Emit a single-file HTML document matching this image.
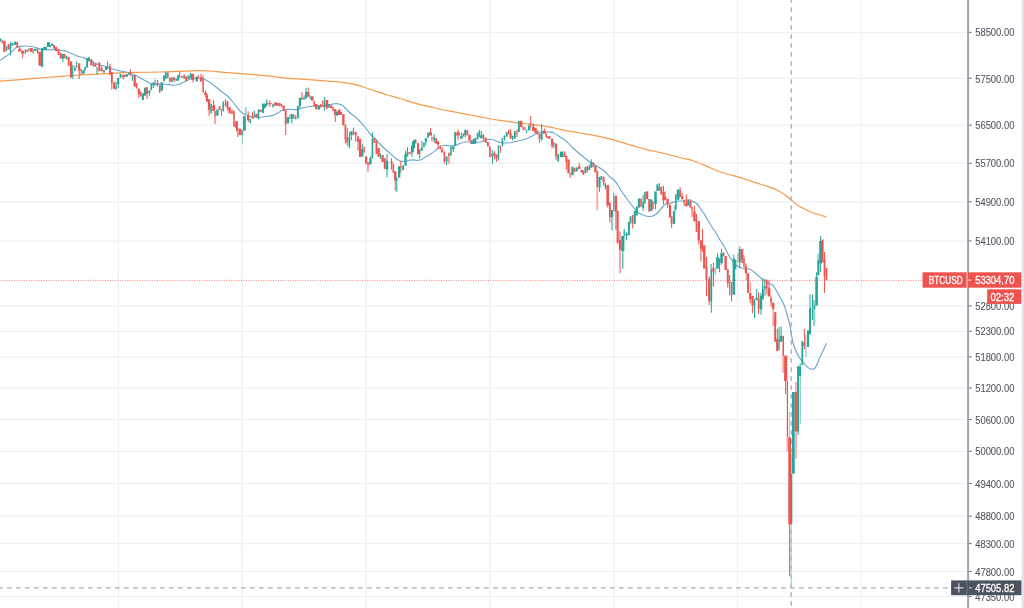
<!DOCTYPE html>
<html><head><meta charset="utf-8"><title>BTCUSD chart</title>
<style>html,body{margin:0;padding:0;background:#fff;overflow:hidden}svg{display:block}</style></head>
<body>
<svg width="1024" height="608" viewBox="0 0 1024 608">
<rect width="1024" height="608" fill="#fff"/>
<g stroke="#ebf1f6" stroke-width="1.25" fill="none">
<line x1="118.4" y1="0" x2="118.4" y2="608"/>
<line x1="242.2" y1="0" x2="242.2" y2="608"/>
<line x1="366.1" y1="0" x2="366.1" y2="608"/>
<line x1="489.9" y1="0" x2="489.9" y2="608"/>
<line x1="613.8" y1="0" x2="613.8" y2="608"/>
<line x1="737.6" y1="0" x2="737.6" y2="608"/>
<line x1="861.4" y1="0" x2="861.4" y2="608"/>
<line x1="0" y1="32.3" x2="967" y2="32.3"/>
<line x1="0" y1="78.3" x2="967" y2="78.3"/>
<line x1="0" y1="125.1" x2="967" y2="125.1"/>
<line x1="0" y1="163.2" x2="967" y2="163.2"/>
<line x1="0" y1="201.8" x2="967" y2="201.8"/>
<line x1="0" y1="241.0" x2="967" y2="241.0"/>
<line x1="0" y1="305.9" x2="967" y2="305.9"/>
<line x1="0" y1="331.3" x2="967" y2="331.3"/>
<line x1="0" y1="356.9" x2="967" y2="356.9"/>
<line x1="0" y1="388.0" x2="967" y2="388.0"/>
<line x1="0" y1="419.5" x2="967" y2="419.5"/>
<line x1="0" y1="451.3" x2="967" y2="451.3"/>
<line x1="0" y1="483.5" x2="967" y2="483.5"/>
<line x1="0" y1="516.1" x2="967" y2="516.1"/>
<line x1="0" y1="543.6" x2="967" y2="543.6"/>
<line x1="0" y1="571.4" x2="967" y2="571.4"/>
<line x1="0" y1="596.6" x2="967" y2="596.6"/>
</g>
<path d="M0.0 60.6C0.8 60.0 3.3 58.2 5.0 57.0C6.7 55.8 8.2 55.0 10.0 53.4C11.8 51.8 14.3 48.7 16.0 47.5C17.7 46.3 18.5 46.6 20.0 46.4C21.5 46.1 23.0 46.0 25.0 46.0C27.0 46.0 30.0 46.2 32.0 46.5C34.0 46.8 35.5 47.5 37.0 48.0C38.5 48.5 39.3 49.2 41.0 49.5C42.7 49.8 44.7 49.8 47.0 49.8C49.3 49.8 52.8 49.6 55.0 49.7C57.2 49.8 58.5 50.1 60.0 50.3C61.5 50.4 62.7 50.3 64.0 50.6C65.3 50.9 65.8 51.2 67.8 52.0C69.8 52.8 73.1 54.4 76.0 55.5C78.9 56.6 82.7 57.5 85.0 58.4C87.3 59.3 88.2 60.1 90.0 61.0C91.8 61.9 93.7 62.8 96.0 63.6C98.3 64.4 101.7 65.3 104.0 66.0C106.3 66.7 108.0 67.3 110.0 68.0C112.0 68.7 114.0 69.5 116.0 70.0C118.0 70.5 120.0 70.9 122.0 71.3C124.0 71.7 126.0 72.0 128.0 72.5C130.0 73.0 132.0 73.6 134.0 74.5C136.0 75.4 138.0 76.9 140.0 78.0C142.0 79.1 144.3 80.1 146.0 81.0C147.7 81.9 148.7 82.7 150.0 83.2C151.3 83.7 152.3 84.0 154.0 84.2C155.7 84.4 158.2 84.3 160.0 84.3C161.8 84.3 163.3 84.1 165.0 84.2C166.7 84.3 168.5 84.6 170.0 84.8C171.5 85.0 172.7 85.2 174.0 85.2C175.3 85.2 176.7 84.9 178.0 84.5C179.3 84.1 180.7 83.5 182.0 82.9C183.3 82.3 184.7 81.6 186.0 81.0C187.3 80.4 189.0 79.7 190.0 79.3C191.0 78.9 191.0 78.8 192.0 78.6C193.0 78.3 194.7 77.9 196.0 77.8C197.3 77.7 198.7 77.8 200.0 78.0C201.3 78.2 202.3 78.2 204.0 79.0C205.7 79.8 208.0 81.2 210.0 82.5C212.0 83.8 214.0 85.4 216.0 87.0C218.0 88.6 220.0 90.4 222.0 92.0C224.0 93.6 226.3 95.0 228.0 96.5C229.7 98.0 230.7 99.4 232.0 101.0C233.3 102.6 234.7 104.3 236.0 106.0C237.3 107.7 238.7 109.7 240.0 111.0C241.3 112.3 242.7 113.2 244.0 114.0C245.3 114.8 246.3 115.5 248.0 116.0C249.7 116.5 252.0 116.8 254.0 117.0C256.0 117.2 258.0 117.3 260.0 117.2C262.0 117.1 264.0 116.8 266.0 116.5C268.0 116.2 270.3 116.0 272.0 115.6C273.7 115.2 274.5 114.8 276.0 114.0C277.5 113.2 279.5 111.7 281.0 111.0C282.5 110.3 283.2 109.8 285.0 109.6C286.8 109.3 290.0 109.5 292.0 109.5C294.0 109.5 295.3 109.8 297.0 109.5C298.7 109.2 300.2 108.5 302.0 108.0C303.8 107.5 306.0 107.0 308.0 106.7C310.0 106.4 312.0 106.1 314.0 106.0C316.0 105.9 318.2 106.3 320.0 106.2C321.8 106.1 323.3 105.8 325.0 105.5C326.7 105.2 328.2 104.8 330.0 104.5C331.8 104.2 334.3 103.6 336.0 103.6C337.7 103.6 338.7 103.8 340.0 104.3C341.3 104.8 342.7 105.6 344.0 106.7C345.3 107.8 346.7 109.7 348.0 111.0C349.3 112.3 350.7 113.4 352.0 114.5C353.3 115.6 354.7 116.3 356.0 117.5C357.3 118.7 358.7 120.1 360.0 121.5C361.3 122.9 362.7 124.4 364.0 126.0C365.3 127.6 366.7 129.3 368.0 131.0C369.3 132.7 370.7 134.6 372.0 136.0C373.3 137.4 374.7 138.2 376.0 139.5C377.3 140.8 378.7 142.6 380.0 144.0C381.3 145.4 382.7 146.8 384.0 148.0C385.3 149.2 386.7 150.3 388.0 151.5C389.3 152.7 390.7 153.8 392.0 155.0C393.3 156.2 394.7 157.5 396.0 158.5C397.3 159.5 398.7 160.3 400.0 160.8C401.3 161.3 402.7 161.6 404.0 161.5C405.3 161.4 406.7 160.8 408.0 160.5C409.3 160.2 410.7 160.0 412.0 159.9C413.3 159.8 415.0 160.1 416.0 160.2C417.0 160.3 417.0 160.5 418.0 160.3C419.0 160.2 421.0 159.7 422.0 159.3C423.0 158.9 422.7 158.8 424.0 158.0C425.3 157.2 428.0 155.8 430.0 154.5C432.0 153.2 434.3 151.3 436.0 150.0C437.7 148.7 438.7 147.2 440.0 146.5C441.3 145.8 442.3 145.6 444.0 145.5C445.7 145.4 448.2 145.7 450.0 145.7C451.8 145.7 453.3 145.9 455.0 145.5C456.7 145.1 458.3 144.1 460.0 143.5C461.7 142.9 463.7 142.3 465.0 142.0C466.3 141.7 466.8 141.7 468.0 141.8C469.2 141.9 470.7 142.3 472.0 142.5C473.3 142.7 474.3 143.2 476.0 143.0C477.7 142.8 480.0 142.1 482.0 141.5C484.0 140.9 486.3 139.8 488.0 139.5C489.7 139.2 490.7 139.2 492.0 139.5C493.3 139.8 494.7 140.5 496.0 141.0C497.3 141.5 498.3 142.2 500.0 142.5C501.7 142.8 504.0 143.0 506.0 143.0C508.0 143.0 510.0 142.8 512.0 142.5C514.0 142.2 516.0 141.5 518.0 141.0C520.0 140.5 522.3 140.0 524.0 139.5C525.7 139.0 526.7 138.6 528.0 138.0C529.3 137.4 530.5 136.8 532.0 136.0C533.5 135.2 535.3 134.2 537.0 133.5C538.7 132.8 540.2 132.2 542.0 132.0C543.8 131.8 546.0 131.8 548.0 132.0C550.0 132.2 552.0 132.2 554.0 133.0C556.0 133.8 558.0 135.7 560.0 137.0C562.0 138.3 564.0 139.3 566.0 141.0C568.0 142.7 570.0 145.1 572.0 147.0C574.0 148.9 576.0 150.8 578.0 152.5C580.0 154.2 582.0 155.9 584.0 157.5C586.0 159.1 588.2 160.8 590.0 162.0C591.8 163.2 593.3 164.0 595.0 165.0C596.7 166.0 598.3 166.9 600.0 168.0C601.7 169.1 603.3 170.0 605.0 171.5C606.7 173.0 608.5 175.6 610.0 177.0C611.5 178.4 612.7 178.6 614.0 180.0C615.3 181.4 616.7 183.5 618.0 185.5C619.3 187.5 620.7 190.0 622.0 192.0C623.3 194.0 624.7 195.7 626.0 197.5C627.3 199.3 628.7 201.2 630.0 203.0C631.3 204.8 632.7 206.4 634.0 208.0C635.3 209.6 636.7 211.4 638.0 212.5C639.3 213.6 640.7 213.9 642.0 214.5C643.3 215.1 644.7 215.7 646.0 216.0C647.3 216.3 648.7 216.6 650.0 216.5C651.3 216.4 652.7 216.2 654.0 215.5C655.3 214.8 656.7 213.8 658.0 212.5C659.3 211.2 660.7 208.9 662.0 207.5C663.3 206.1 664.7 204.7 666.0 204.0C667.3 203.3 668.3 203.7 670.0 203.3C671.7 202.9 674.3 201.9 676.0 201.5C677.7 201.1 678.7 201.1 680.0 201.0C681.3 200.9 682.7 201.0 684.0 201.0C685.3 201.0 686.7 201.1 688.0 201.2C689.3 201.2 690.7 201.0 692.0 201.3C693.3 201.6 694.7 201.9 696.0 203.0C697.3 204.1 698.7 206.2 700.0 208.0C701.3 209.8 702.7 211.4 704.0 213.5C705.3 215.6 706.7 218.2 708.0 220.5C709.3 222.8 710.7 224.9 712.0 227.0C713.3 229.1 714.7 230.8 716.0 233.0C717.3 235.2 718.7 237.8 720.0 240.0C721.3 242.2 722.7 243.7 724.0 246.0C725.3 248.3 726.7 251.6 728.0 254.0C729.3 256.4 730.7 258.7 732.0 260.5C733.3 262.3 734.7 263.8 736.0 265.0C737.3 266.2 738.5 266.9 740.0 267.5C741.5 268.1 743.3 268.2 745.0 268.5C746.7 268.8 748.5 268.7 750.0 269.3C751.5 269.9 752.7 271.0 754.0 272.0C755.3 273.0 756.7 274.3 758.0 275.5C759.3 276.7 760.7 277.9 762.0 279.0C763.3 280.1 764.7 281.2 766.0 282.0C767.3 282.8 768.8 283.4 770.0 284.0C771.2 284.6 772.0 284.5 773.0 285.5C774.0 286.5 774.8 288.1 776.0 290.0C777.2 291.9 778.7 294.5 780.0 297.0C781.3 299.5 783.0 302.7 784.0 305.0C785.0 307.3 785.3 308.8 786.0 311.0C786.7 313.2 787.3 315.5 788.0 318.0C788.7 320.5 789.2 321.8 790.0 326.0C790.8 330.2 792.0 338.8 793.0 343.0C794.0 347.2 795.0 348.7 796.0 351.0C797.0 353.3 798.0 355.3 799.0 357.0C800.0 358.7 801.0 359.8 802.0 361.0C803.0 362.2 804.0 363.4 805.0 364.5C806.0 365.6 807.0 366.8 808.0 367.5C809.0 368.2 810.0 368.8 811.0 369.0C812.0 369.2 813.2 369.3 814.0 369.0C814.8 368.7 815.0 368.0 815.6 367.0C816.2 366.0 816.8 364.9 817.5 363.2C818.2 361.5 819.0 359.1 820.0 357.0C821.0 354.9 822.1 352.8 823.2 350.5C824.3 348.2 826.0 344.4 826.5 343.2" fill="none" stroke="#5d9dc9" stroke-width="1.15" stroke-linejoin="round" opacity="0.9"/>
<path d="M0.0 81.2C5.3 80.8 21.3 79.6 32.0 78.7C42.7 77.8 56.0 76.7 64.0 76.1C72.0 75.5 74.7 75.3 80.0 75.0C85.3 74.7 91.0 74.5 96.0 74.2C101.0 74.0 106.0 73.7 110.0 73.5C114.0 73.3 117.0 73.0 120.0 72.8C123.0 72.6 121.3 72.6 128.0 72.5C134.7 72.4 149.3 72.3 160.0 72.0C170.7 71.7 185.3 71.0 192.0 70.8C198.7 70.5 197.0 70.7 200.0 70.7C203.0 70.7 206.0 70.7 210.0 71.0C214.0 71.3 219.0 71.9 224.0 72.3C229.0 72.7 235.7 73.3 240.0 73.6C244.3 73.9 245.1 73.9 250.0 74.3C254.9 74.7 263.0 75.5 269.5 76.2C276.0 76.9 282.5 77.8 289.0 78.4C295.5 79.0 302.1 79.2 308.6 79.7C315.1 80.2 323.1 80.7 328.0 81.1C332.9 81.5 334.7 81.6 338.0 81.9C341.3 82.2 344.5 82.7 347.7 83.2C350.9 83.8 354.1 84.4 357.4 85.2C360.6 86.0 362.3 86.7 367.2 88.3C372.1 89.9 381.2 93.1 386.7 94.8C392.2 96.5 395.1 97.1 400.0 98.5C404.9 99.9 410.5 102.0 415.8 103.4C421.1 104.9 426.3 106.0 431.6 107.2C436.9 108.4 442.1 109.6 447.4 110.7C452.7 111.8 459.4 113.0 463.2 113.7C467.0 114.4 466.2 114.3 470.0 115.0C473.8 115.7 480.5 117.0 485.8 118.0C491.1 119.0 496.3 119.9 501.6 120.7C506.9 121.5 512.1 122.2 517.4 122.9C522.7 123.6 527.8 123.9 533.2 124.6C538.6 125.3 545.5 126.5 550.0 127.2C554.5 128.0 555.0 128.3 560.0 129.3C565.0 130.3 573.3 131.8 580.0 133.0C586.7 134.2 594.7 135.5 600.0 136.6C605.3 137.7 607.8 138.3 611.7 139.4C615.6 140.5 619.5 141.7 623.4 142.9C627.3 144.1 631.3 145.3 635.2 146.4C639.1 147.5 643.0 148.7 646.9 149.7C650.8 150.7 654.7 151.4 658.6 152.3C662.5 153.2 666.4 154.1 670.3 155.0C674.2 155.9 678.1 157.0 682.0 158.0C685.9 159.0 689.8 159.7 693.7 161.0C697.6 162.3 701.6 164.0 705.5 165.6C709.4 167.2 713.3 169.3 717.2 170.8C721.1 172.3 725.0 173.4 728.9 174.5C732.8 175.6 736.7 176.4 740.6 177.6C744.5 178.8 748.4 180.3 752.3 181.6C756.2 182.9 760.1 184.0 764.0 185.3C767.9 186.6 772.3 187.9 775.8 189.5C779.3 191.1 782.6 193.3 785.1 195.0C787.6 196.7 788.6 197.9 791.0 199.8C793.4 201.7 795.9 204.2 799.2 206.2C802.5 208.2 807.4 210.5 810.9 212.0C814.4 213.5 817.8 214.1 820.3 215.0C822.8 215.9 825.2 216.8 826.2 217.2" fill="none" stroke="#f7953f" stroke-width="1.2" stroke-linejoin="round" opacity="0.95"/>
<line x1="791.2" y1="-1.7" x2="791.2" y2="608" stroke="#a3acba" stroke-width="1.35" stroke-dasharray="4.4 4.6"/>
<line x1="-1.9" y1="587.8" x2="951" y2="587.8" stroke="#a3acba" stroke-width="1.35" stroke-dasharray="4.6 4.4"/>
<defs><filter id="bl" x="-2%" y="-2%" width="104%" height="104%"><feGaussianBlur stdDeviation="0.35"/></filter></defs>
<g filter="url(#bl)"><g stroke-width="1.05"><line x1="8.59" y1="44.06" x2="8.59" y2="44.38" stroke="#ef5350"/><line x1="10.56" y1="41.56" x2="10.56" y2="42.50" stroke="#26a69a"/><line x1="10.56" y1="52.50" x2="10.56" y2="55.62" stroke="#26a69a"/><line x1="19.69" y1="46.56" x2="19.69" y2="48.75" stroke="#ef5350"/><line x1="22.66" y1="53.75" x2="22.66" y2="57.81" stroke="#ef5350"/><line x1="33.28" y1="51.88" x2="33.28" y2="53.75" stroke="#26a69a"/><line x1="62.78" y1="58.75" x2="62.78" y2="61.88" stroke="#26a69a"/><line x1="72.75" y1="65.12" x2="72.75" y2="70.12" stroke="#26a69a"/><line x1="72.75" y1="77.00" x2="72.75" y2="78.88" stroke="#26a69a"/><line x1="74.94" y1="65.44" x2="74.94" y2="67.94" stroke="#26a69a"/><line x1="76.66" y1="61.38" x2="76.66" y2="64.50" stroke="#26a69a"/><line x1="79.16" y1="70.75" x2="79.16" y2="78.88" stroke="#ef5350"/><line x1="81.03" y1="70.75" x2="81.03" y2="75.12" stroke="#ef5350"/><line x1="93.38" y1="61.38" x2="93.38" y2="63.25" stroke="#26a69a"/><line x1="97.06" y1="70.12" x2="97.06" y2="74.81" stroke="#26a69a"/><line x1="101.66" y1="65.44" x2="101.66" y2="68.25" stroke="#ef5350"/><line x1="107.59" y1="61.38" x2="107.59" y2="66.38" stroke="#26a69a"/><line x1="109.94" y1="63.88" x2="109.94" y2="66.06" stroke="#ef5350"/><line x1="109.94" y1="73.88" x2="109.94" y2="75.44" stroke="#ef5350"/><line x1="111.81" y1="83.25" x2="111.81" y2="89.50" stroke="#ef5350"/><line x1="116.03" y1="81.38" x2="116.03" y2="85.12" stroke="#26a69a"/><line x1="116.03" y1="89.50" x2="116.03" y2="90.12" stroke="#26a69a"/><line x1="118.22" y1="84.50" x2="118.22" y2="88.25" stroke="#26a69a"/><line x1="123.22" y1="77.00" x2="123.22" y2="79.50" stroke="#ef5350"/><line x1="130.50" y1="69.19" x2="130.50" y2="72.62" stroke="#ef5350"/><line x1="132.53" y1="77.62" x2="132.53" y2="80.75" stroke="#26a69a"/><line x1="138.78" y1="94.50" x2="138.78" y2="97.94" stroke="#ef5350"/><line x1="147.06" y1="94.19" x2="147.06" y2="98.88" stroke="#ef5350"/><line x1="149.41" y1="93.25" x2="149.41" y2="95.75" stroke="#26a69a"/><line x1="153.31" y1="85.75" x2="153.31" y2="87.94" stroke="#26a69a"/><line x1="155.03" y1="79.50" x2="155.03" y2="83.25" stroke="#26a69a"/><line x1="157.53" y1="80.12" x2="157.53" y2="82.62" stroke="#ef5350"/><line x1="157.53" y1="84.19" x2="157.53" y2="86.69" stroke="#ef5350"/><line x1="169.88" y1="81.06" x2="169.88" y2="82.62" stroke="#ef5350"/><line x1="173.94" y1="80.12" x2="173.94" y2="81.69" stroke="#ef5350"/><line x1="179.66" y1="71.38" x2="179.66" y2="75.12" stroke="#ef5350"/><line x1="179.66" y1="77.62" x2="179.66" y2="78.25" stroke="#ef5350"/><line x1="193.09" y1="80.38" x2="193.09" y2="82.56" stroke="#ef5350"/><line x1="198.41" y1="75.06" x2="198.41" y2="76.62" stroke="#ef5350"/><line x1="198.41" y1="78.50" x2="198.41" y2="79.12" stroke="#ef5350"/><line x1="201.06" y1="74.12" x2="201.06" y2="77.25" stroke="#ef5350"/><line x1="203.09" y1="75.38" x2="203.09" y2="78.50" stroke="#ef5350"/><line x1="205.59" y1="90.38" x2="205.59" y2="92.88" stroke="#ef5350"/><line x1="205.59" y1="95.38" x2="205.59" y2="97.25" stroke="#ef5350"/><line x1="209.08" y1="110.22" x2="209.08" y2="115.75" stroke="#ef5350"/><line x1="213.63" y1="99.95" x2="213.63" y2="105.08" stroke="#ef5350"/><line x1="215.01" y1="116.54" x2="215.01" y2="123.65" stroke="#ef5350"/><line x1="221.52" y1="110.61" x2="221.52" y2="115.75" stroke="#ef5350"/><line x1="225.47" y1="99.16" x2="225.47" y2="103.90" stroke="#26a69a"/><line x1="227.45" y1="108.64" x2="227.45" y2="110.61" stroke="#ef5350"/><line x1="231.99" y1="109.43" x2="231.99" y2="111.01" stroke="#ef5350"/><line x1="236.53" y1="127.99" x2="236.53" y2="131.55" stroke="#ef5350"/><line x1="237.84" y1="129.97" x2="237.84" y2="137.07" stroke="#ef5350"/><line x1="248.18" y1="111.40" x2="248.18" y2="115.35" stroke="#ef5350"/><line x1="248.18" y1="120.09" x2="248.18" y2="121.67" stroke="#ef5350"/><line x1="252.53" y1="112.19" x2="252.53" y2="116.93" stroke="#ef5350"/><line x1="254.30" y1="110.61" x2="254.30" y2="114.96" stroke="#26a69a"/><line x1="266.75" y1="99.16" x2="266.75" y2="100.74" stroke="#26a69a"/><line x1="269.91" y1="100.34" x2="269.91" y2="103.11" stroke="#ef5350"/><line x1="269.91" y1="104.29" x2="269.91" y2="107.06" stroke="#ef5350"/><line x1="285.69" y1="124.69" x2="285.69" y2="135.00" stroke="#ef5350"/><line x1="289.91" y1="114.62" x2="289.91" y2="116.50" stroke="#26a69a"/><line x1="291.78" y1="119.00" x2="291.78" y2="123.38" stroke="#26a69a"/><line x1="295.69" y1="115.25" x2="295.69" y2="118.06" stroke="#26a69a"/><line x1="299.91" y1="106.19" x2="299.91" y2="108.06" stroke="#26a69a"/><line x1="301.94" y1="92.12" x2="301.94" y2="98.06" stroke="#ef5350"/><line x1="304.12" y1="95.25" x2="304.12" y2="98.06" stroke="#26a69a"/><line x1="306.00" y1="88.06" x2="306.00" y2="91.81" stroke="#26a69a"/><line x1="308.19" y1="87.44" x2="308.19" y2="91.81" stroke="#ef5350"/><line x1="310.00" y1="95.25" x2="310.00" y2="96.50" stroke="#26a69a"/><line x1="310.00" y1="98.69" x2="310.00" y2="99.62" stroke="#26a69a"/><line x1="322.72" y1="99.94" x2="322.72" y2="105.25" stroke="#ef5350"/><line x1="324.59" y1="97.12" x2="324.59" y2="100.25" stroke="#26a69a"/><line x1="324.59" y1="107.75" x2="324.59" y2="110.56" stroke="#26a69a"/><line x1="326.94" y1="107.75" x2="326.94" y2="109.62" stroke="#ef5350"/><line x1="335.22" y1="115.25" x2="335.22" y2="121.88" stroke="#ef5350"/><line x1="340.07" y1="109.48" x2="340.07" y2="111.85" stroke="#ef5350"/><line x1="345.40" y1="139.49" x2="345.40" y2="143.44" stroke="#ef5350"/><line x1="347.26" y1="127.65" x2="347.26" y2="137.12" stroke="#ef5350"/><line x1="347.26" y1="142.65" x2="347.26" y2="145.81" stroke="#ef5350"/><line x1="349.35" y1="131.99" x2="349.35" y2="137.12" stroke="#26a69a"/><line x1="349.35" y1="146.60" x2="349.35" y2="148.58" stroke="#26a69a"/><line x1="351.40" y1="135.55" x2="351.40" y2="140.28" stroke="#26a69a"/><line x1="353.46" y1="127.65" x2="353.46" y2="131.20" stroke="#ef5350"/><line x1="355.63" y1="135.55" x2="355.63" y2="141.86" stroke="#ef5350"/><line x1="357.92" y1="141.86" x2="357.92" y2="150.55" stroke="#ef5350"/><line x1="362.30" y1="144.00" x2="362.30" y2="149.13" stroke="#26a69a"/><line x1="367.99" y1="165.72" x2="367.99" y2="171.65" stroke="#ef5350"/><line x1="370.36" y1="156.24" x2="370.36" y2="158.22" stroke="#26a69a"/><line x1="372.41" y1="132.15" x2="372.41" y2="138.47" stroke="#26a69a"/><line x1="380.43" y1="153.48" x2="380.43" y2="155.06" stroke="#26a69a"/><line x1="380.43" y1="157.43" x2="380.43" y2="159.01" stroke="#26a69a"/><line x1="387.03" y1="153.87" x2="387.03" y2="160.59" stroke="#26a69a"/><line x1="387.03" y1="169.67" x2="387.03" y2="177.18" stroke="#26a69a"/><line x1="391.49" y1="158.22" x2="391.49" y2="161.77" stroke="#ef5350"/><line x1="391.49" y1="163.35" x2="391.49" y2="169.67" stroke="#ef5350"/><line x1="395.24" y1="180.73" x2="395.24" y2="190.60" stroke="#ef5350"/><line x1="396.74" y1="180.73" x2="396.74" y2="192.03" stroke="#26a69a"/><line x1="400.85" y1="160.98" x2="400.85" y2="166.12" stroke="#ef5350"/><line x1="400.85" y1="168.09" x2="400.85" y2="172.44" stroke="#ef5350"/><line x1="405.51" y1="150.71" x2="405.51" y2="153.87" stroke="#26a69a"/><line x1="407.48" y1="147.16" x2="407.48" y2="151.90" stroke="#26a69a"/><line x1="411.95" y1="152.69" x2="411.95" y2="156.64" stroke="#26a69a"/><line x1="413.41" y1="147.81" x2="413.41" y2="152.50" stroke="#26a69a"/><line x1="419.72" y1="154.38" x2="419.72" y2="158.75" stroke="#26a69a"/><line x1="421.84" y1="140.94" x2="421.84" y2="147.19" stroke="#26a69a"/><line x1="425.91" y1="141.88" x2="425.91" y2="145.00" stroke="#26a69a"/><line x1="430.50" y1="128.12" x2="430.50" y2="132.19" stroke="#ef5350"/><line x1="431.94" y1="138.75" x2="431.94" y2="141.56" stroke="#ef5350"/><line x1="434.19" y1="134.06" x2="434.19" y2="137.19" stroke="#26a69a"/><line x1="434.19" y1="140.00" x2="434.19" y2="142.81" stroke="#26a69a"/><line x1="438.09" y1="144.69" x2="438.09" y2="149.38" stroke="#ef5350"/><line x1="442.16" y1="147.19" x2="442.16" y2="149.38" stroke="#ef5350"/><line x1="444.34" y1="161.00" x2="444.34" y2="163.44" stroke="#ef5350"/><line x1="446.53" y1="155.94" x2="446.53" y2="156.88" stroke="#26a69a"/><line x1="446.53" y1="161.62" x2="446.53" y2="165.00" stroke="#26a69a"/><line x1="448.97" y1="152.19" x2="448.97" y2="153.38" stroke="#ef5350"/><line x1="448.97" y1="156.25" x2="448.97" y2="163.44" stroke="#ef5350"/><line x1="453.25" y1="149.06" x2="453.25" y2="151.88" stroke="#26a69a"/><line x1="458.03" y1="129.38" x2="458.03" y2="132.19" stroke="#ef5350"/><line x1="458.03" y1="135.62" x2="458.03" y2="139.69" stroke="#ef5350"/><line x1="461.38" y1="132.50" x2="461.38" y2="135.94" stroke="#26a69a"/><line x1="465.28" y1="135.31" x2="465.28" y2="137.50" stroke="#26a69a"/><line x1="473.41" y1="139.06" x2="473.41" y2="140.94" stroke="#26a69a"/><line x1="481.38" y1="131.06" x2="481.38" y2="135.12" stroke="#26a69a"/><line x1="492.47" y1="150.62" x2="492.47" y2="153.12" stroke="#26a69a"/><line x1="492.47" y1="156.88" x2="492.47" y2="163.75" stroke="#26a69a"/><line x1="494.50" y1="151.25" x2="494.50" y2="153.12" stroke="#ef5350"/><line x1="494.50" y1="156.25" x2="494.50" y2="159.38" stroke="#ef5350"/><line x1="496.53" y1="158.75" x2="496.53" y2="161.88" stroke="#ef5350"/><line x1="498.47" y1="158.44" x2="498.47" y2="160.62" stroke="#26a69a"/><line x1="500.44" y1="146.88" x2="500.44" y2="152.81" stroke="#ef5350"/><line x1="504.50" y1="137.94" x2="504.50" y2="140.75" stroke="#26a69a"/><line x1="510.59" y1="129.19" x2="510.59" y2="133.25" stroke="#ef5350"/><line x1="512.78" y1="138.88" x2="512.78" y2="140.44" stroke="#26a69a"/><line x1="517.00" y1="129.19" x2="517.00" y2="132.31" stroke="#ef5350"/><line x1="517.00" y1="133.56" x2="517.00" y2="137.00" stroke="#ef5350"/><line x1="523.09" y1="128.88" x2="523.09" y2="130.75" stroke="#ef5350"/><line x1="525.12" y1="127.00" x2="525.12" y2="128.56" stroke="#ef5350"/><line x1="526.69" y1="129.50" x2="526.69" y2="130.12" stroke="#26a69a"/><line x1="526.69" y1="132.00" x2="526.69" y2="133.25" stroke="#26a69a"/><line x1="529.19" y1="123.56" x2="529.19" y2="125.75" stroke="#26a69a"/><line x1="530.75" y1="116.06" x2="530.75" y2="126.06" stroke="#ef5350"/><line x1="533.25" y1="123.56" x2="533.25" y2="127.00" stroke="#ef5350"/><line x1="533.38" y1="123.90" x2="533.38" y2="127.45" stroke="#ef5350"/><line x1="539.50" y1="138.91" x2="539.50" y2="142.86" stroke="#ef5350"/><line x1="541.68" y1="124.29" x2="541.68" y2="131.40" stroke="#26a69a"/><line x1="541.68" y1="139.70" x2="541.68" y2="140.49" stroke="#26a69a"/><line x1="544.48" y1="128.64" x2="544.48" y2="130.61" stroke="#ef5350"/><line x1="552.06" y1="145.62" x2="552.06" y2="148.39" stroke="#ef5350"/><line x1="556.10" y1="156.71" x2="556.10" y2="159.87" stroke="#ef5350"/><line x1="564.39" y1="151.18" x2="564.39" y2="152.37" stroke="#ef5350"/><line x1="566.36" y1="161.85" x2="566.36" y2="169.75" stroke="#ef5350"/><line x1="570.20" y1="174.09" x2="570.20" y2="178.04" stroke="#ef5350"/><line x1="579.20" y1="163.03" x2="579.20" y2="166.19" stroke="#ef5350"/><line x1="583.35" y1="174.09" x2="583.35" y2="174.88" stroke="#ef5350"/><line x1="587.30" y1="170.14" x2="587.30" y2="172.51" stroke="#ef5350"/><line x1="589.35" y1="164.61" x2="589.35" y2="166.98" stroke="#26a69a"/><line x1="591.33" y1="159.48" x2="591.33" y2="162.24" stroke="#26a69a"/><line x1="599.50" y1="187.85" x2="599.50" y2="191.80" stroke="#26a69a"/><line x1="603.65" y1="182.71" x2="603.65" y2="185.48" stroke="#ef5350"/><line x1="605.35" y1="182.71" x2="605.35" y2="183.90" stroke="#26a69a"/><line x1="605.35" y1="187.85" x2="605.35" y2="189.43" stroke="#26a69a"/><line x1="607.68" y1="205.62" x2="607.68" y2="207.60" stroke="#ef5350"/><line x1="609.89" y1="217.07" x2="609.89" y2="222.60" stroke="#ef5350"/><line x1="611.98" y1="217.47" x2="611.98" y2="230.50" stroke="#26a69a"/><line x1="613.84" y1="192.98" x2="613.84" y2="195.75" stroke="#26a69a"/><line x1="615.93" y1="211.55" x2="615.93" y2="229.71" stroke="#ef5350"/><line x1="619.96" y1="231.29" x2="619.96" y2="239.98" stroke="#ef5350"/><line x1="622.81" y1="251.04" x2="622.81" y2="268.81" stroke="#26a69a"/><line x1="624.19" y1="228.92" x2="624.19" y2="231.29" stroke="#26a69a"/><line x1="626.56" y1="231.69" x2="626.56" y2="234.06" stroke="#26a69a"/><line x1="626.56" y1="235.08" x2="626.56" y2="239.98" stroke="#26a69a"/><line x1="632.68" y1="224.18" x2="632.68" y2="228.13" stroke="#ef5350"/><line x1="643.15" y1="194.96" x2="643.15" y2="202.07" stroke="#26a69a"/><line x1="643.15" y1="208.39" x2="643.15" y2="210.76" stroke="#26a69a"/><line x1="655.51" y1="204.04" x2="655.51" y2="209.18" stroke="#26a69a"/><line x1="659.26" y1="183.11" x2="659.26" y2="187.06" stroke="#26a69a"/><line x1="663.48" y1="185.87" x2="663.48" y2="191.80" stroke="#ef5350"/><line x1="663.48" y1="200.49" x2="663.48" y2="204.44" stroke="#ef5350"/><line x1="665.18" y1="191.45" x2="665.18" y2="196.59" stroke="#ef5350"/><line x1="667.55" y1="204.49" x2="667.55" y2="207.65" stroke="#ef5350"/><line x1="671.62" y1="223.84" x2="671.62" y2="228.18" stroke="#ef5350"/><line x1="680.07" y1="187.11" x2="680.07" y2="190.27" stroke="#ef5350"/><line x1="682.17" y1="193.03" x2="682.17" y2="196.19" stroke="#ef5350"/><line x1="684.14" y1="202.91" x2="684.14" y2="206.07" stroke="#ef5350"/><line x1="686.35" y1="194.61" x2="686.35" y2="202.91" stroke="#ef5350"/><line x1="690.38" y1="198.96" x2="690.38" y2="200.93" stroke="#ef5350"/><line x1="692.04" y1="209.62" x2="692.04" y2="217.12" stroke="#ef5350"/><line x1="694.41" y1="206.07" x2="694.41" y2="211.20" stroke="#ef5350"/><line x1="698.76" y1="240.56" x2="698.76" y2="244.51" stroke="#ef5350"/><line x1="700.93" y1="248.86" x2="700.93" y2="261.49" stroke="#ef5350"/><line x1="702.51" y1="229.11" x2="702.51" y2="244.91" stroke="#ef5350"/><line x1="706.46" y1="256.76" x2="706.46" y2="266.23" stroke="#ef5350"/><line x1="706.46" y1="280.45" x2="706.46" y2="296.01" stroke="#ef5350"/><line x1="709.26" y1="276.50" x2="709.26" y2="279.03" stroke="#ef5350"/><line x1="709.26" y1="301.15" x2="709.26" y2="305.10" stroke="#ef5350"/><line x1="711.31" y1="264.02" x2="711.31" y2="268.37" stroke="#26a69a"/><line x1="711.31" y1="301.94" x2="711.31" y2="312.84" stroke="#26a69a"/><line x1="713.45" y1="263.07" x2="713.45" y2="267.58" stroke="#ef5350"/><line x1="713.45" y1="271.92" x2="713.45" y2="286.53" stroke="#ef5350"/><line x1="717.52" y1="253.20" x2="717.52" y2="257.15" stroke="#26a69a"/><line x1="719.57" y1="263.07" x2="719.57" y2="272.32" stroke="#ef5350"/><line x1="721.54" y1="248.86" x2="721.54" y2="253.20" stroke="#26a69a"/><line x1="721.54" y1="263.07" x2="721.54" y2="264.65" stroke="#26a69a"/><line x1="727.78" y1="283.37" x2="727.78" y2="287.72" stroke="#ef5350"/><line x1="729.64" y1="275.08" x2="729.64" y2="281.79" stroke="#26a69a"/><line x1="729.64" y1="282.98" x2="729.64" y2="295.62" stroke="#26a69a"/><line x1="731.54" y1="295.62" x2="731.54" y2="301.15" stroke="#ef5350"/><line x1="733.83" y1="254.39" x2="733.83" y2="258.73" stroke="#26a69a"/><line x1="739.71" y1="246.49" x2="739.71" y2="248.86" stroke="#26a69a"/><line x1="739.71" y1="262.28" x2="739.71" y2="268.60" stroke="#26a69a"/><line x1="741.88" y1="259.12" x2="741.88" y2="263.07" stroke="#ef5350"/><line x1="742.08" y1="258.96" x2="742.08" y2="262.91" stroke="#ef5350"/><line x1="745.95" y1="263.30" x2="745.95" y2="266.07" stroke="#ef5350"/><line x1="750.22" y1="298.98" x2="750.22" y2="303.33" stroke="#ef5350"/><line x1="752.59" y1="305.70" x2="752.59" y2="313.20" stroke="#ef5350"/><line x1="754.56" y1="298.98" x2="754.56" y2="302.93" stroke="#26a69a"/><line x1="754.56" y1="305.70" x2="754.56" y2="317.94" stroke="#26a69a"/><line x1="756.66" y1="289.11" x2="756.66" y2="297.40" stroke="#26a69a"/><line x1="758.63" y1="292.27" x2="758.63" y2="298.59" stroke="#ef5350"/><line x1="758.63" y1="308.86" x2="758.63" y2="313.99" stroke="#ef5350"/><line x1="760.96" y1="293.06" x2="760.96" y2="295.43" stroke="#26a69a"/><line x1="760.96" y1="309.65" x2="760.96" y2="314.78" stroke="#26a69a"/><line x1="762.66" y1="278.45" x2="762.66" y2="285.16" stroke="#26a69a"/><line x1="764.83" y1="278.84" x2="764.83" y2="286.34" stroke="#26a69a"/><line x1="764.83" y1="290.29" x2="764.83" y2="295.82" stroke="#26a69a"/><line x1="766.81" y1="289.11" x2="766.81" y2="294.24" stroke="#ef5350"/><line x1="768.98" y1="279.63" x2="768.98" y2="289.11" stroke="#ef5350"/><line x1="771.03" y1="295.82" x2="771.03" y2="297.80" stroke="#ef5350"/><line x1="771.03" y1="302.54" x2="771.03" y2="306.49" stroke="#ef5350"/><line x1="777.30" y1="329.00" x2="777.30" y2="339.00" stroke="#ef5350"/><line x1="779.05" y1="327.00" x2="779.05" y2="339.00" stroke="#26a69a"/><line x1="781.10" y1="326.40" x2="781.10" y2="335.80" stroke="#26a69a"/><line x1="785.65" y1="381.00" x2="785.65" y2="394.00" stroke="#ef5350"/><line x1="789.65" y1="524.60" x2="789.65" y2="575.80" stroke="#ef5350"/><line x1="798.10" y1="431.70" x2="798.10" y2="435.00" stroke="#26a69a"/><line x1="800.10" y1="363.50" x2="800.10" y2="367.00" stroke="#26a69a"/><line x1="804.40" y1="329.00" x2="804.40" y2="343.00" stroke="#ef5350"/><line x1="804.40" y1="346.50" x2="804.40" y2="349.30" stroke="#ef5350"/><line x1="816.60" y1="272.30" x2="816.60" y2="276.80" stroke="#26a69a"/><line x1="820.60" y1="236.00" x2="820.60" y2="241.00" stroke="#26a69a"/><line x1="820.60" y1="263.60" x2="820.60" y2="272.30" stroke="#26a69a"/><line x1="824.55" y1="252.00" x2="824.55" y2="260.00" stroke="#ef5350"/><line x1="824.55" y1="276.20" x2="824.55" y2="293.00" stroke="#ef5350"/></g>
<g><rect x="0.00" y="38.44" width="1.38" height="3.12" fill="#26a69a"/><rect x="1.56" y="40.31" width="1.25" height="3.12" fill="#ef5350"/><rect x="3.12" y="40.62" width="2.50" height="11.25" fill="#ef5350"/><rect x="5.94" y="46.25" width="1.25" height="4.38" fill="#26a69a"/><rect x="7.50" y="44.38" width="2.19" height="5.31" fill="#ef5350"/><rect x="9.90" y="42.50" width="1.32" height="10.00" fill="#26a69a"/><rect x="11.25" y="43.12" width="2.19" height="2.50" fill="#26a69a"/><rect x="14.06" y="41.56" width="2.19" height="3.44" fill="#26a69a"/><rect x="16.38" y="41.88" width="1.75" height="6.25" fill="#ef5350"/><rect x="18.12" y="48.75" width="3.12" height="2.81" fill="#ef5350"/><rect x="21.25" y="50.62" width="2.81" height="3.12" fill="#ef5350"/><rect x="24.69" y="49.38" width="1.25" height="4.38" fill="#26a69a"/><rect x="26.25" y="49.69" width="2.19" height="2.19" fill="#ef5350"/><rect x="28.44" y="48.12" width="1.25" height="2.50" fill="#26a69a"/><rect x="30.00" y="48.12" width="2.81" height="3.75" fill="#ef5350"/><rect x="32.71" y="50.62" width="1.14" height="1.25" fill="#26a69a"/><rect x="33.75" y="48.75" width="2.81" height="2.19" fill="#26a69a"/><rect x="36.88" y="48.75" width="1.56" height="4.69" fill="#ef5350"/><rect x="38.44" y="51.88" width="2.50" height="13.75" fill="#ef5350"/><rect x="40.94" y="48.12" width="2.19" height="18.75" fill="#26a69a"/><rect x="43.12" y="46.88" width="3.75" height="3.12" fill="#26a69a"/><rect x="46.88" y="42.19" width="3.12" height="4.69" fill="#26a69a"/><rect x="49.90" y="45.62" width="1.14" height="1.88" fill="#26a69a"/><rect x="50.94" y="43.44" width="2.19" height="2.50" fill="#26a69a"/><rect x="53.12" y="45.00" width="1.88" height="3.75" fill="#ef5350"/><rect x="55.00" y="46.88" width="2.19" height="4.38" fill="#ef5350"/><rect x="57.50" y="49.06" width="1.88" height="5.94" fill="#ef5350"/><rect x="59.69" y="52.50" width="1.88" height="6.25" fill="#ef5350"/><rect x="61.56" y="54.06" width="2.44" height="4.69" fill="#26a69a"/><rect x="64.00" y="53.88" width="1.56" height="4.38" fill="#ef5350"/><rect x="65.88" y="56.06" width="1.56" height="3.44" fill="#26a69a"/><rect x="67.75" y="57.00" width="1.88" height="8.75" fill="#ef5350"/><rect x="69.94" y="61.38" width="2.19" height="16.25" fill="#ef5350"/><rect x="72.12" y="70.12" width="1.25" height="6.88" fill="#26a69a"/><rect x="74.00" y="67.94" width="1.88" height="2.81" fill="#26a69a"/><rect x="76.09" y="64.50" width="1.14" height="3.12" fill="#26a69a"/><rect x="78.06" y="63.25" width="2.19" height="7.50" fill="#ef5350"/><rect x="80.25" y="68.88" width="1.56" height="1.88" fill="#ef5350"/><rect x="82.12" y="70.12" width="2.50" height="3.75" fill="#26a69a"/><rect x="84.31" y="66.69" width="1.56" height="4.06" fill="#26a69a"/><rect x="86.19" y="58.25" width="1.88" height="9.38" fill="#26a69a"/><rect x="88.06" y="57.31" width="1.88" height="4.06" fill="#26a69a"/><rect x="90.25" y="59.19" width="2.19" height="6.25" fill="#ef5350"/><rect x="92.75" y="63.25" width="1.25" height="3.44" fill="#26a69a"/><rect x="94.31" y="63.56" width="2.19" height="3.12" fill="#ef5350"/><rect x="96.40" y="67.31" width="1.32" height="2.81" fill="#26a69a"/><rect x="98.38" y="62.31" width="1.88" height="9.06" fill="#ef5350"/><rect x="100.56" y="68.25" width="2.19" height="3.12" fill="#ef5350"/><rect x="103.06" y="70.12" width="1.88" height="2.50" fill="#26a69a"/><rect x="104.94" y="66.69" width="2.19" height="3.44" fill="#26a69a"/><rect x="107.03" y="66.38" width="1.14" height="2.50" fill="#26a69a"/><rect x="109.00" y="66.06" width="1.88" height="7.81" fill="#ef5350"/><rect x="110.88" y="72.00" width="1.88" height="11.25" fill="#ef5350"/><rect x="113.06" y="82.31" width="2.19" height="6.56" fill="#ef5350"/><rect x="115.25" y="85.12" width="1.56" height="4.38" fill="#26a69a"/><rect x="117.12" y="77.94" width="2.19" height="6.56" fill="#26a69a"/><rect x="119.62" y="73.56" width="1.56" height="4.38" fill="#26a69a"/><rect x="121.50" y="74.81" width="3.44" height="2.19" fill="#ef5350"/><rect x="125.25" y="74.19" width="2.75" height="2.50" fill="#26a69a"/><rect x="128.00" y="72.31" width="1.25" height="2.50" fill="#26a69a"/><rect x="129.56" y="72.62" width="1.88" height="3.12" fill="#ef5350"/><rect x="131.75" y="75.12" width="1.56" height="2.50" fill="#26a69a"/><rect x="133.62" y="75.12" width="2.19" height="11.56" fill="#ef5350"/><rect x="135.81" y="83.25" width="1.56" height="5.31" fill="#ef5350"/><rect x="137.69" y="88.56" width="2.19" height="5.94" fill="#ef5350"/><rect x="139.88" y="91.38" width="1.56" height="5.31" fill="#ef5350"/><rect x="141.75" y="93.25" width="2.19" height="6.75" fill="#26a69a"/><rect x="143.94" y="87.62" width="2.19" height="8.12" fill="#26a69a"/><rect x="146.12" y="87.00" width="1.88" height="7.19" fill="#ef5350"/><rect x="148.31" y="90.44" width="2.19" height="2.81" fill="#26a69a"/><rect x="150.50" y="83.88" width="1.56" height="6.25" fill="#26a69a"/><rect x="152.38" y="82.31" width="1.88" height="3.44" fill="#26a69a"/><rect x="154.25" y="83.25" width="1.56" height="2.19" fill="#26a69a"/><rect x="156.44" y="82.62" width="2.19" height="1.56" fill="#ef5350"/><rect x="158.94" y="85.44" width="1.56" height="7.19" fill="#ef5350"/><rect x="160.50" y="82.31" width="2.50" height="8.44" fill="#26a69a"/><rect x="163.00" y="75.44" width="1.88" height="5.94" fill="#26a69a"/><rect x="164.88" y="72.31" width="1.88" height="6.56" fill="#26a69a"/><rect x="167.06" y="72.31" width="1.56" height="5.62" fill="#ef5350"/><rect x="168.94" y="77.62" width="1.88" height="3.44" fill="#ef5350"/><rect x="171.12" y="77.31" width="1.56" height="4.69" fill="#26a69a"/><rect x="173.00" y="77.00" width="1.88" height="3.12" fill="#ef5350"/><rect x="175.19" y="78.56" width="2.19" height="2.19" fill="#26a69a"/><rect x="177.06" y="75.12" width="1.88" height="5.62" fill="#26a69a"/><rect x="178.94" y="75.12" width="1.44" height="2.50" fill="#ef5350"/><rect x="181.12" y="76.06" width="1.88" height="1.56" fill="#26a69a"/><rect x="183.31" y="74.50" width="1.56" height="4.38" fill="#ef5350"/><rect x="185.19" y="76.38" width="1.88" height="4.69" fill="#ef5350"/><rect x="187.38" y="75.44" width="2.19" height="3.75" fill="#26a69a"/><rect x="189.88" y="72.94" width="1.25" height="5.31" fill="#26a69a"/><rect x="191.03" y="73.88" width="1.07" height="5.62" fill="#ef5350"/><rect x="192.00" y="73.81" width="2.19" height="6.56" fill="#ef5350"/><rect x="195.44" y="76.62" width="2.50" height="4.69" fill="#26a69a"/><rect x="197.84" y="76.62" width="1.14" height="1.88" fill="#ef5350"/><rect x="199.81" y="77.25" width="2.50" height="4.38" fill="#ef5350"/><rect x="202.31" y="78.50" width="1.56" height="14.06" fill="#ef5350"/><rect x="204.19" y="92.88" width="2.81" height="2.50" fill="#ef5350"/><rect x="206.69" y="94.44" width="1.25" height="7.19" fill="#ef5350"/><rect x="205.92" y="96.00" width="1.58" height="5.92" fill="#ef5350"/><rect x="207.90" y="99.16" width="2.37" height="11.06" fill="#ef5350"/><rect x="210.27" y="103.90" width="1.58" height="9.48" fill="#26a69a"/><rect x="212.24" y="105.08" width="2.76" height="5.92" fill="#ef5350"/><rect x="214.22" y="111.01" width="1.58" height="5.53" fill="#ef5350"/><rect x="216.19" y="109.43" width="2.37" height="6.32" fill="#26a69a"/><rect x="218.56" y="106.27" width="1.97" height="3.55" fill="#ef5350"/><rect x="220.54" y="109.03" width="1.97" height="1.58" fill="#ef5350"/><rect x="222.51" y="101.53" width="1.58" height="9.87" fill="#26a69a"/><rect x="224.78" y="103.90" width="1.38" height="2.37" fill="#26a69a"/><rect x="226.46" y="101.13" width="1.97" height="7.50" fill="#ef5350"/><rect x="228.44" y="107.06" width="2.37" height="6.32" fill="#ef5350"/><rect x="231.20" y="111.01" width="1.58" height="3.16" fill="#ef5350"/><rect x="233.18" y="110.61" width="1.58" height="16.19" fill="#ef5350"/><rect x="235.15" y="121.28" width="2.76" height="6.71" fill="#ef5350"/><rect x="237.12" y="127.60" width="1.42" height="2.37" fill="#ef5350"/><rect x="238.70" y="128.78" width="2.76" height="6.32" fill="#ef5350"/><rect x="241.47" y="130.36" width="1.58" height="5.13" fill="#26a69a"/><rect x="241.71" y="135.49" width="1.26" height="9.08" fill="#93d2cb"/><rect x="243.05" y="116.14" width="2.76" height="14.61" fill="#26a69a"/><rect x="244.87" y="107.45" width="1.90" height="8.69" fill="#93d2cb"/><rect x="247.00" y="115.35" width="2.37" height="4.74" fill="#ef5350"/><rect x="249.37" y="118.91" width="1.58" height="4.34" fill="#26a69a"/><rect x="251.34" y="116.93" width="2.37" height="1.58" fill="#ef5350"/><rect x="253.61" y="114.96" width="1.38" height="1.97" fill="#26a69a"/><rect x="255.29" y="113.77" width="2.37" height="3.55" fill="#ef5350"/><rect x="257.66" y="109.43" width="1.58" height="9.87" fill="#26a69a"/><rect x="259.24" y="109.82" width="2.76" height="1.97" fill="#ef5350"/><rect x="262.01" y="103.50" width="1.97" height="9.48" fill="#26a69a"/><rect x="263.98" y="103.50" width="1.97" height="4.74" fill="#26a69a"/><rect x="265.96" y="100.74" width="1.58" height="5.13" fill="#26a69a"/><rect x="267.93" y="103.11" width="3.95" height="1.18" fill="#ef5350"/><rect x="272.27" y="103.90" width="1.58" height="3.55" fill="#26a69a"/><rect x="274.25" y="102.32" width="2.37" height="3.55" fill="#ef5350"/><rect x="276.91" y="103.11" width="1.38" height="2.37" fill="#26a69a"/><rect x="278.59" y="103.11" width="1.42" height="3.16" fill="#ef5350"/><rect x="275.90" y="102.44" width="1.14" height="2.81" fill="#ef5350"/><rect x="276.94" y="103.06" width="1.25" height="2.50" fill="#26a69a"/><rect x="278.50" y="103.06" width="2.19" height="2.50" fill="#ef5350"/><rect x="280.69" y="104.00" width="1.56" height="2.81" fill="#ef5350"/><rect x="282.56" y="105.56" width="2.19" height="5.31" fill="#ef5350"/><rect x="284.75" y="110.25" width="1.88" height="14.44" fill="#ef5350"/><rect x="286.62" y="117.12" width="2.50" height="6.25" fill="#26a69a"/><rect x="289.34" y="116.50" width="1.14" height="2.50" fill="#26a69a"/><rect x="290.69" y="114.00" width="2.19" height="5.00" fill="#26a69a"/><rect x="292.88" y="114.31" width="1.56" height="4.38" fill="#ef5350"/><rect x="294.75" y="118.06" width="1.88" height="1.25" fill="#26a69a"/><rect x="296.94" y="105.88" width="1.88" height="12.50" fill="#26a69a"/><rect x="298.81" y="97.75" width="2.19" height="8.44" fill="#26a69a"/><rect x="301.00" y="98.06" width="1.88" height="1.56" fill="#ef5350"/><rect x="302.88" y="98.06" width="2.50" height="1.25" fill="#26a69a"/><rect x="305.06" y="91.81" width="1.88" height="6.88" fill="#26a69a"/><rect x="306.94" y="91.81" width="2.50" height="5.00" fill="#ef5350"/><rect x="309.34" y="96.50" width="1.33" height="2.19" fill="#26a69a"/><rect x="311.00" y="96.19" width="2.50" height="4.38" fill="#ef5350"/><rect x="313.50" y="100.88" width="1.56" height="5.62" fill="#ef5350"/><rect x="315.06" y="104.00" width="2.19" height="5.31" fill="#ef5350"/><rect x="317.56" y="105.25" width="2.50" height="4.38" fill="#26a69a"/><rect x="320.06" y="104.00" width="1.25" height="3.44" fill="#ef5350"/><rect x="321.62" y="105.25" width="2.19" height="1.56" fill="#ef5350"/><rect x="323.81" y="100.25" width="1.56" height="7.50" fill="#26a69a"/><rect x="325.69" y="99.94" width="2.50" height="7.81" fill="#ef5350"/><rect x="328.19" y="104.00" width="1.56" height="3.75" fill="#26a69a"/><rect x="330.06" y="105.25" width="2.19" height="2.81" fill="#ef5350"/><rect x="332.25" y="106.81" width="1.56" height="4.06" fill="#ef5350"/><rect x="334.12" y="109.00" width="2.19" height="6.25" fill="#ef5350"/><rect x="336.31" y="111.81" width="1.56" height="3.75" fill="#26a69a"/><rect x="337.88" y="109.62" width="2.12" height="5.31" fill="#ef5350"/><rect x="336.00" y="111.45" width="1.97" height="3.95" fill="#26a69a"/><rect x="338.21" y="111.85" width="3.71" height="3.16" fill="#ef5350"/><rect x="342.16" y="114.22" width="2.37" height="11.06" fill="#ef5350"/><rect x="344.53" y="124.49" width="1.74" height="15.01" fill="#ef5350"/><rect x="346.27" y="137.12" width="1.97" height="5.53" fill="#ef5350"/><rect x="348.48" y="137.12" width="1.74" height="9.48" fill="#26a69a"/><rect x="350.22" y="131.20" width="2.37" height="4.34" fill="#26a69a"/><rect x="352.75" y="131.20" width="1.42" height="3.55" fill="#ef5350"/><rect x="354.56" y="131.99" width="2.13" height="3.55" fill="#ef5350"/><rect x="356.93" y="136.33" width="1.97" height="5.53" fill="#ef5350"/><rect x="358.91" y="138.87" width="2.21" height="18.17" fill="#ef5350"/><rect x="361.12" y="149.13" width="2.37" height="7.50" fill="#26a69a"/><rect x="363.49" y="146.76" width="1.34" height="5.92" fill="#ef5350"/><rect x="365.07" y="156.24" width="2.13" height="7.50" fill="#ef5350"/><rect x="367.20" y="162.17" width="1.58" height="3.55" fill="#ef5350"/><rect x="369.18" y="158.22" width="2.37" height="6.32" fill="#26a69a"/><rect x="371.55" y="138.47" width="1.74" height="20.14" fill="#26a69a"/><rect x="373.44" y="138.08" width="1.90" height="4.74" fill="#ef5350"/><rect x="375.49" y="140.84" width="1.97" height="13.43" fill="#ef5350"/><rect x="377.47" y="147.95" width="2.37" height="8.69" fill="#ef5350"/><rect x="379.74" y="155.06" width="1.38" height="2.37" fill="#26a69a"/><rect x="381.42" y="155.06" width="2.37" height="7.11" fill="#ef5350"/><rect x="383.79" y="158.22" width="1.97" height="10.66" fill="#ef5350"/><rect x="385.76" y="160.59" width="2.53" height="9.08" fill="#26a69a"/><rect x="390.11" y="161.77" width="2.76" height="1.58" fill="#ef5350"/><rect x="392.48" y="163.75" width="1.58" height="9.08" fill="#ef5350"/><rect x="394.06" y="171.25" width="2.37" height="9.48" fill="#ef5350"/><rect x="396.03" y="177.18" width="1.42" height="3.55" fill="#26a69a"/><rect x="398.01" y="166.12" width="2.37" height="11.45" fill="#26a69a"/><rect x="400.14" y="166.12" width="1.42" height="1.97" fill="#ef5350"/><rect x="402.19" y="165.33" width="1.90" height="4.74" fill="#26a69a"/><rect x="404.33" y="153.87" width="2.37" height="11.85" fill="#26a69a"/><rect x="406.70" y="151.90" width="1.58" height="4.74" fill="#26a69a"/><rect x="408.67" y="151.90" width="1.97" height="2.37" fill="#ef5350"/><rect x="410.88" y="145.58" width="2.13" height="7.11" fill="#26a69a"/><rect x="413.01" y="140.05" width="1.97" height="7.90" fill="#26a69a"/><rect x="414.89" y="139.26" width="1.23" height="3.95" fill="#ef5350"/><rect x="412.00" y="141.25" width="2.81" height="6.56" fill="#26a69a"/><rect x="415.00" y="140.00" width="1.38" height="3.44" fill="#ef5350"/><rect x="417.00" y="143.12" width="2.00" height="11.25" fill="#ef5350"/><rect x="419.00" y="149.38" width="1.44" height="5.00" fill="#26a69a"/><rect x="420.75" y="147.19" width="2.19" height="3.44" fill="#26a69a"/><rect x="423.12" y="142.50" width="1.69" height="4.69" fill="#26a69a"/><rect x="424.81" y="138.12" width="2.19" height="3.75" fill="#26a69a"/><rect x="427.12" y="132.50" width="1.75" height="5.31" fill="#26a69a"/><rect x="429.00" y="132.19" width="3.00" height="3.44" fill="#ef5350"/><rect x="431.25" y="136.56" width="1.38" height="2.19" fill="#ef5350"/><rect x="433.25" y="137.19" width="1.88" height="2.81" fill="#26a69a"/><rect x="435.25" y="138.12" width="1.75" height="5.62" fill="#ef5350"/><rect x="437.00" y="141.25" width="2.19" height="3.44" fill="#ef5350"/><rect x="439.50" y="145.94" width="1.56" height="3.44" fill="#ef5350"/><rect x="441.06" y="149.38" width="2.19" height="3.12" fill="#ef5350"/><rect x="443.56" y="151.56" width="1.56" height="9.44" fill="#ef5350"/><rect x="445.44" y="156.88" width="2.19" height="4.75" fill="#26a69a"/><rect x="448.12" y="153.38" width="1.69" height="2.88" fill="#ef5350"/><rect x="450.12" y="146.25" width="1.56" height="9.38" fill="#26a69a"/><rect x="452.00" y="146.25" width="2.50" height="2.81" fill="#26a69a"/><rect x="454.19" y="131.88" width="1.88" height="14.06" fill="#26a69a"/><rect x="456.25" y="132.19" width="3.56" height="3.44" fill="#ef5350"/><rect x="460.12" y="135.94" width="2.50" height="2.81" fill="#26a69a"/><rect x="462.62" y="133.44" width="1.56" height="3.12" fill="#26a69a"/><rect x="464.19" y="129.69" width="2.19" height="5.62" fill="#26a69a"/><rect x="466.38" y="130.31" width="1.88" height="5.00" fill="#ef5350"/><rect x="468.25" y="134.69" width="2.50" height="5.94" fill="#ef5350"/><rect x="470.44" y="140.00" width="1.88" height="4.06" fill="#ef5350"/><rect x="472.31" y="140.94" width="2.19" height="3.12" fill="#26a69a"/><rect x="474.50" y="138.75" width="1.50" height="5.00" fill="#26a69a"/><rect x="472.62" y="138.88" width="1.88" height="5.00" fill="#26a69a"/><rect x="474.50" y="137.94" width="1.88" height="4.06" fill="#26a69a"/><rect x="476.69" y="132.62" width="1.88" height="6.56" fill="#26a69a"/><rect x="478.75" y="130.12" width="1.38" height="6.88" fill="#26a69a"/><rect x="480.12" y="135.12" width="2.50" height="3.12" fill="#26a69a"/><rect x="482.75" y="134.19" width="1.44" height="5.31" fill="#ef5350"/><rect x="484.50" y="137.62" width="2.19" height="5.00" fill="#ef5350"/><rect x="487.00" y="142.00" width="1.88" height="4.38" fill="#ef5350"/><rect x="489.00" y="146.38" width="1.75" height="10.81" fill="#ef5350"/><rect x="491.38" y="153.12" width="2.19" height="3.75" fill="#26a69a"/><rect x="493.56" y="153.12" width="1.88" height="3.12" fill="#ef5350"/><rect x="495.44" y="154.38" width="2.19" height="4.38" fill="#ef5350"/><rect x="497.75" y="145.31" width="1.44" height="13.12" fill="#26a69a"/><rect x="499.50" y="145.94" width="1.88" height="0.94" fill="#ef5350"/><rect x="501.69" y="137.94" width="1.56" height="8.31" fill="#26a69a"/><rect x="503.56" y="135.44" width="1.88" height="2.50" fill="#26a69a"/><rect x="505.75" y="132.00" width="1.88" height="4.69" fill="#26a69a"/><rect x="507.94" y="130.12" width="1.56" height="4.38" fill="#ef5350"/><rect x="509.50" y="133.25" width="2.19" height="5.31" fill="#ef5350"/><rect x="512.00" y="135.75" width="1.56" height="3.12" fill="#26a69a"/><rect x="513.88" y="131.06" width="1.88" height="7.50" fill="#26a69a"/><rect x="516.06" y="132.31" width="1.88" height="1.25" fill="#ef5350"/><rect x="517.94" y="121.06" width="1.88" height="10.94" fill="#26a69a"/><rect x="519.81" y="120.75" width="2.50" height="6.25" fill="#ef5350"/><rect x="522.31" y="126.38" width="1.56" height="2.50" fill="#ef5350"/><rect x="524.19" y="128.56" width="1.88" height="1.25" fill="#ef5350"/><rect x="526.06" y="130.12" width="1.25" height="1.88" fill="#26a69a"/><rect x="527.94" y="125.75" width="2.50" height="4.69" fill="#26a69a"/><rect x="530.12" y="126.06" width="1.25" height="1.25" fill="#ef5350"/><rect x="532.00" y="127.00" width="2.50" height="3.75" fill="#ef5350"/><rect x="534.50" y="128.25" width="1.50" height="5.00" fill="#ef5350"/><rect x="532.00" y="127.45" width="2.76" height="3.16" fill="#ef5350"/><rect x="534.76" y="127.85" width="1.97" height="5.13" fill="#ef5350"/><rect x="536.74" y="130.22" width="1.58" height="4.34" fill="#ef5350"/><rect x="538.48" y="133.77" width="2.05" height="5.13" fill="#ef5350"/><rect x="540.69" y="131.40" width="1.97" height="8.29" fill="#26a69a"/><rect x="542.90" y="130.61" width="3.16" height="3.16" fill="#ef5350"/><rect x="545.43" y="133.77" width="1.58" height="3.55" fill="#ef5350"/><rect x="547.17" y="136.14" width="3.40" height="2.37" fill="#ef5350"/><rect x="550.96" y="138.51" width="2.21" height="7.11" fill="#ef5350"/><rect x="553.17" y="142.07" width="1.34" height="5.53" fill="#26a69a"/><rect x="555.11" y="143.52" width="1.97" height="13.19" fill="#ef5350"/><rect x="557.32" y="153.95" width="1.74" height="7.50" fill="#26a69a"/><rect x="559.85" y="151.58" width="3.16" height="5.53" fill="#26a69a"/><rect x="563.40" y="152.37" width="1.97" height="4.74" fill="#ef5350"/><rect x="565.38" y="155.53" width="1.97" height="6.32" fill="#ef5350"/><rect x="567.35" y="159.48" width="2.37" height="13.82" fill="#ef5350"/><rect x="569.48" y="172.91" width="1.42" height="1.18" fill="#ef5350"/><rect x="571.30" y="166.59" width="2.37" height="8.69" fill="#26a69a"/><rect x="573.67" y="168.17" width="1.58" height="3.95" fill="#ef5350"/><rect x="575.49" y="167.38" width="2.37" height="3.95" fill="#26a69a"/><rect x="578.02" y="166.19" width="2.37" height="2.76" fill="#ef5350"/><rect x="580.54" y="169.75" width="2.21" height="2.76" fill="#ef5350"/><rect x="582.36" y="170.54" width="1.97" height="3.55" fill="#ef5350"/><rect x="584.49" y="166.98" width="1.82" height="6.32" fill="#26a69a"/><rect x="586.31" y="166.19" width="1.97" height="3.95" fill="#ef5350"/><rect x="588.44" y="166.98" width="1.82" height="3.16" fill="#26a69a"/><rect x="590.26" y="162.24" width="2.13" height="5.53" fill="#26a69a"/><rect x="592.63" y="162.24" width="1.58" height="4.74" fill="#ef5350"/><rect x="594.21" y="165.80" width="2.37" height="6.32" fill="#ef5350"/><rect x="596.34" y="171.02" width="1.82" height="16.03" fill="#ef5350"/><rect x="596.34" y="187.06" width="1.82" height="22.91" fill="#f7a8a6"/><rect x="598.48" y="176.79" width="2.05" height="11.06" fill="#26a69a"/><rect x="600.53" y="176.00" width="1.74" height="3.95" fill="#26a69a"/><rect x="602.66" y="176.79" width="1.97" height="5.92" fill="#ef5350"/><rect x="604.64" y="183.90" width="1.42" height="3.95" fill="#26a69a"/><rect x="606.38" y="185.08" width="2.61" height="20.54" fill="#ef5350"/><rect x="608.98" y="202.46" width="1.82" height="14.61" fill="#ef5350"/><rect x="610.80" y="209.97" width="2.37" height="7.50" fill="#26a69a"/><rect x="613.17" y="195.75" width="1.34" height="15.01" fill="#26a69a"/><rect x="614.75" y="195.75" width="2.37" height="15.80" fill="#ef5350"/><rect x="616.64" y="210.76" width="2.05" height="32.39" fill="#ef5350"/><rect x="618.86" y="239.98" width="2.21" height="9.87" fill="#ef5350"/><rect x="618.86" y="249.85" width="2.21" height="23.30" fill="#f7a8a6"/><rect x="621.23" y="236.03" width="3.16" height="15.01" fill="#26a69a"/><rect x="623.50" y="231.29" width="1.38" height="4.74" fill="#26a69a"/><rect x="624.39" y="234.06" width="4.34" height="1.03" fill="#26a69a"/><rect x="627.94" y="221.81" width="1.97" height="13.43" fill="#26a69a"/><rect x="629.52" y="216.28" width="1.97" height="7.11" fill="#26a69a"/><rect x="631.89" y="214.70" width="1.58" height="9.48" fill="#ef5350"/><rect x="633.86" y="210.76" width="1.97" height="13.03" fill="#26a69a"/><rect x="635.84" y="206.41" width="1.97" height="9.08" fill="#26a69a"/><rect x="637.81" y="198.51" width="2.37" height="9.08" fill="#26a69a"/><rect x="640.18" y="198.51" width="1.58" height="8.29" fill="#ef5350"/><rect x="642.16" y="202.07" width="1.97" height="6.32" fill="#26a69a"/><rect x="644.13" y="191.80" width="1.58" height="11.85" fill="#26a69a"/><rect x="645.87" y="191.40" width="2.37" height="7.90" fill="#ef5350"/><rect x="648.24" y="198.91" width="1.82" height="12.64" fill="#ef5350"/><rect x="650.21" y="199.30" width="2.21" height="11.85" fill="#26a69a"/><rect x="652.19" y="201.28" width="1.42" height="7.90" fill="#ef5350"/><rect x="654.24" y="191.40" width="2.53" height="12.64" fill="#26a69a"/><rect x="656.38" y="184.29" width="1.97" height="6.71" fill="#26a69a"/><rect x="658.19" y="187.06" width="2.13" height="3.55" fill="#26a69a"/><rect x="660.33" y="186.66" width="1.97" height="7.90" fill="#ef5350"/><rect x="662.30" y="191.80" width="2.37" height="8.69" fill="#ef5350"/><rect x="664.00" y="196.59" width="2.37" height="3.16" fill="#ef5350"/><rect x="666.37" y="198.96" width="2.37" height="5.53" fill="#ef5350"/><rect x="668.90" y="204.49" width="2.21" height="13.03" fill="#ef5350"/><rect x="670.71" y="216.33" width="1.82" height="7.50" fill="#ef5350"/><rect x="672.85" y="211.20" width="2.21" height="12.64" fill="#26a69a"/><rect x="673.64" y="205.28" width="2.84" height="5.92" fill="#93d2cb"/><rect x="675.06" y="194.22" width="1.58" height="15.40" fill="#26a69a"/><rect x="676.80" y="189.48" width="2.61" height="10.27" fill="#26a69a"/><rect x="679.17" y="190.27" width="1.82" height="6.71" fill="#ef5350"/><rect x="680.98" y="196.19" width="2.37" height="3.16" fill="#ef5350"/><rect x="683.35" y="199.75" width="1.58" height="3.16" fill="#ef5350"/><rect x="685.17" y="202.91" width="2.37" height="3.55" fill="#ef5350"/><rect x="687.30" y="199.35" width="1.82" height="6.32" fill="#26a69a"/><rect x="689.28" y="200.93" width="2.21" height="6.71" fill="#ef5350"/><rect x="691.25" y="206.86" width="1.58" height="2.76" fill="#ef5350"/><rect x="693.23" y="211.20" width="2.37" height="10.27" fill="#ef5350"/><rect x="695.60" y="213.97" width="1.58" height="18.17" fill="#ef5350"/><rect x="697.57" y="221.05" width="2.37" height="19.51" fill="#ef5350"/><rect x="699.94" y="240.17" width="1.97" height="8.69" fill="#ef5350"/><rect x="701.81" y="244.91" width="1.38" height="6.71" fill="#ef5350"/><rect x="703.10" y="245.30" width="2.37" height="23.30" fill="#ef5350"/><rect x="705.47" y="266.23" width="1.97" height="14.22" fill="#ef5350"/><rect x="708.08" y="279.03" width="2.37" height="22.12" fill="#ef5350"/><rect x="710.45" y="268.37" width="1.74" height="33.57" fill="#26a69a"/><rect x="712.34" y="267.58" width="2.21" height="4.34" fill="#ef5350"/><rect x="714.55" y="267.58" width="1.58" height="7.11" fill="#93d2cb"/><rect x="710.21" y="264.26" width="1.58" height="5.13" fill="#93d2cb"/><rect x="716.13" y="257.15" width="2.76" height="11.45" fill="#26a69a"/><rect x="718.90" y="258.33" width="1.34" height="4.74" fill="#ef5350"/><rect x="720.24" y="253.20" width="2.61" height="9.87" fill="#26a69a"/><rect x="722.85" y="252.41" width="1.58" height="3.95" fill="#ef5350"/><rect x="724.43" y="255.97" width="2.37" height="13.98" fill="#ef5350"/><rect x="726.80" y="269.16" width="1.97" height="14.22" fill="#ef5350"/><rect x="728.93" y="281.79" width="1.42" height="1.18" fill="#26a69a"/><rect x="730.75" y="281.79" width="1.58" height="13.82" fill="#ef5350"/><rect x="732.56" y="258.73" width="2.53" height="36.10" fill="#26a69a"/><rect x="734.99" y="259.91" width="1.38" height="9.48" fill="#26a69a"/><rect x="737.06" y="253.20" width="1.58" height="9.87" fill="#f7a8a6"/><rect x="738.64" y="248.86" width="2.13" height="13.43" fill="#26a69a"/><rect x="740.78" y="249.25" width="2.21" height="9.87" fill="#ef5350"/><rect x="742.89" y="255.18" width="1.23" height="7.90" fill="#ef5350"/><rect x="740.90" y="249.08" width="2.37" height="9.87" fill="#ef5350"/><rect x="743.27" y="255.40" width="1.42" height="14.61" fill="#f7a8a6"/><rect x="743.27" y="258.56" width="1.42" height="7.50" fill="#ef5350"/><rect x="744.85" y="266.07" width="2.21" height="7.50" fill="#ef5350"/><rect x="745.48" y="273.97" width="1.58" height="6.32" fill="#f7a8a6"/><rect x="747.06" y="273.18" width="1.97" height="19.91" fill="#ef5350"/><rect x="749.72" y="282.26" width="1.38" height="13.03" fill="#f7a8a6"/><rect x="749.03" y="293.06" width="2.37" height="5.92" fill="#ef5350"/><rect x="751.40" y="295.82" width="2.37" height="9.87" fill="#ef5350"/><rect x="753.77" y="302.93" width="1.58" height="2.76" fill="#26a69a"/><rect x="755.59" y="297.40" width="2.13" height="2.76" fill="#26a69a"/><rect x="757.72" y="298.59" width="1.82" height="10.27" fill="#ef5350"/><rect x="759.70" y="295.43" width="2.53" height="14.22" fill="#26a69a"/><rect x="761.97" y="285.16" width="1.38" height="13.82" fill="#26a69a"/><rect x="763.65" y="286.34" width="2.37" height="3.95" fill="#26a69a"/><rect x="766.02" y="279.63" width="1.58" height="9.48" fill="#ef5350"/><rect x="767.60" y="289.11" width="2.76" height="7.11" fill="#ef5350"/><rect x="770.12" y="297.80" width="1.82" height="4.74" fill="#ef5350"/><rect x="771.94" y="302.54" width="2.37" height="6.32" fill="#ef5350"/><rect x="772.33" y="308.86" width="1.97" height="17.38" fill="#f7a8a6"/><rect x="774.31" y="312.02" width="1.97" height="11.85" fill="#ef5350"/><rect x="762.27" y="289.21" width="1.58" height="10.27" fill="#26a69a"/><rect x="763.85" y="288.42" width="1.97" height="7.11" fill="#93d2cb"/><rect x="766.22" y="288.42" width="1.58" height="5.53" fill="#f7a8a6"/><rect x="768.20" y="287.63" width="1.82" height="8.69" fill="#ef5350"/><rect x="774.20" y="318.00" width="1.90" height="23.80" fill="#ef5350"/><rect x="776.10" y="339.00" width="2.40" height="11.90" fill="#ef5350"/><rect x="778.40" y="339.00" width="1.30" height="11.00" fill="#26a69a"/><rect x="779.70" y="335.80" width="2.80" height="6.00" fill="#26a69a"/><rect x="782.50" y="335.80" width="1.50" height="20.60" fill="#ef5350"/><rect x="782.30" y="355.60" width="2.00" height="17.10" fill="#f7a8a6"/><rect x="784.10" y="355.60" width="3.10" height="25.40" fill="#ef5350"/><rect x="786.80" y="381.00" width="1.20" height="56.20" fill="#ef5350"/><rect x="786.50" y="437.20" width="2.30" height="14.20" fill="#f7a8a6"/><rect x="788.80" y="412.00" width="1.10" height="25.20" fill="#f7a8a6"/><rect x="788.30" y="437.20" width="2.70" height="87.40" fill="#ef5350"/><rect x="791.00" y="473.70" width="1.30" height="50.30" fill="#26a69a"/><rect x="791.00" y="454.00" width="1.30" height="19.70" fill="#93d2cb"/><rect x="790.70" y="524.00" width="1.00" height="63.50" fill="#93d2cb"/><rect x="792.00" y="392.00" width="2.75" height="81.70" fill="#26a69a"/><rect x="794.75" y="392.00" width="2.35" height="39.70" fill="#ef5350"/><rect x="795.20" y="382.00" width="1.70" height="10.00" fill="#f7a8a6"/><rect x="795.20" y="431.70" width="1.70" height="27.00" fill="#f7a8a6"/><rect x="797.10" y="366.00" width="2.00" height="65.70" fill="#26a69a"/><rect x="799.10" y="367.00" width="2.00" height="9.00" fill="#26a69a"/><rect x="799.60" y="376.00" width="1.40" height="48.00" fill="#93d2cb"/><rect x="801.40" y="341.00" width="1.80" height="24.00" fill="#26a69a"/><rect x="803.20" y="343.00" width="2.40" height="3.50" fill="#ef5350"/><rect x="805.20" y="335.00" width="1.30" height="22.00" fill="#93d2cb"/><rect x="807.00" y="330.30" width="2.00" height="16.70" fill="#26a69a"/><rect x="809.00" y="308.00" width="2.00" height="26.30" fill="#26a69a"/><rect x="809.00" y="294.50" width="2.00" height="13.50" fill="#93d2cb"/><rect x="812.00" y="294.50" width="1.10" height="25.30" fill="#26a69a"/><rect x="813.00" y="300.00" width="2.30" height="26.00" fill="#93d2cb"/><rect x="814.00" y="305.50" width="1.30" height="3.50" fill="#26a69a"/><rect x="815.30" y="276.80" width="2.60" height="28.80" fill="#26a69a"/><rect x="817.30" y="260.00" width="2.10" height="15.40" fill="#26a69a"/><rect x="817.30" y="253.70" width="2.10" height="6.30" fill="#93d2cb"/><rect x="819.20" y="241.00" width="2.80" height="22.60" fill="#26a69a"/><rect x="821.75" y="239.50" width="1.85" height="22.90" fill="#ef5350"/><rect x="823.60" y="260.00" width="1.90" height="16.20" fill="#ef5350"/><rect x="825.60" y="268.00" width="1.70" height="12.30" fill="#ef5350"/></g></g>
<line x1="-1.07" y1="280.4" x2="967" y2="280.4" stroke="#ef5350" stroke-width="1" stroke-dasharray="1 1.47" opacity="0.78"/>
<rect x="967.1" y="0" width="2" height="608" fill="#a0a3ad"/>
<rect x="1021.6" y="0" width="2.4" height="608" fill="#e0e3eb"/>
<defs><filter id="tb" x="-5%" y="-20%" width="110%" height="140%"><feGaussianBlur stdDeviation="0.3"/></filter></defs>
<g font-family="'Liberation Sans', sans-serif" font-size="11.1" fill="#545762" stroke="#545762" stroke-width="0.12" filter="url(#tb)">
<rect x="969" y="31.85" width="2.7" height="0.9" fill="#5a5d68" stroke="none"/>
<text x="975.2" y="36.4" textLength="39.2" lengthAdjust="spacingAndGlyphs">58500.00</text>
<rect x="969" y="77.86" width="2.7" height="0.9" fill="#5a5d68" stroke="none"/>
<text x="975.2" y="82.5" textLength="39.2" lengthAdjust="spacingAndGlyphs">57500.00</text>
<rect x="969" y="124.68" width="2.7" height="0.9" fill="#5a5d68" stroke="none"/>
<text x="975.2" y="129.3" textLength="39.2" lengthAdjust="spacingAndGlyphs">56500.00</text>
<rect x="969" y="162.74" width="2.7" height="0.9" fill="#5a5d68" stroke="none"/>
<text x="975.2" y="167.3" textLength="39.2" lengthAdjust="spacingAndGlyphs">55700.00</text>
<rect x="969" y="201.35" width="2.7" height="0.9" fill="#5a5d68" stroke="none"/>
<text x="975.2" y="205.9" textLength="39.2" lengthAdjust="spacingAndGlyphs">54900.00</text>
<rect x="969" y="240.52" width="2.7" height="0.9" fill="#5a5d68" stroke="none"/>
<text x="975.2" y="245.1" textLength="39.2" lengthAdjust="spacingAndGlyphs">54100.00</text>
<rect x="969" y="305.43" width="2.7" height="0.9" fill="#5a5d68" stroke="none"/>
<text x="975.2" y="310.0" textLength="39.2" lengthAdjust="spacingAndGlyphs">52800.00</text>
<rect x="969" y="330.83" width="2.7" height="0.9" fill="#5a5d68" stroke="none"/>
<text x="975.2" y="335.4" textLength="39.2" lengthAdjust="spacingAndGlyphs">52300.00</text>
<rect x="969" y="356.46" width="2.7" height="0.9" fill="#5a5d68" stroke="none"/>
<text x="975.2" y="361.1" textLength="39.2" lengthAdjust="spacingAndGlyphs">51800.00</text>
<rect x="969" y="387.55" width="2.7" height="0.9" fill="#5a5d68" stroke="none"/>
<text x="975.2" y="392.2" textLength="39.2" lengthAdjust="spacingAndGlyphs">51200.00</text>
<rect x="969" y="419.01" width="2.7" height="0.9" fill="#5a5d68" stroke="none"/>
<text x="975.2" y="423.6" textLength="39.2" lengthAdjust="spacingAndGlyphs">50600.00</text>
<rect x="969" y="450.85" width="2.7" height="0.9" fill="#5a5d68" stroke="none"/>
<text x="975.2" y="455.4" textLength="39.2" lengthAdjust="spacingAndGlyphs">50000.00</text>
<rect x="969" y="483.06" width="2.7" height="0.9" fill="#5a5d68" stroke="none"/>
<text x="975.2" y="487.7" textLength="39.2" lengthAdjust="spacingAndGlyphs">49400.00</text>
<rect x="969" y="515.68" width="2.7" height="0.9" fill="#5a5d68" stroke="none"/>
<text x="975.2" y="520.3" textLength="39.2" lengthAdjust="spacingAndGlyphs">48800.00</text>
<rect x="969" y="543.16" width="2.7" height="0.9" fill="#5a5d68" stroke="none"/>
<text x="975.2" y="547.8" textLength="39.2" lengthAdjust="spacingAndGlyphs">48300.00</text>
<rect x="969" y="570.93" width="2.7" height="0.9" fill="#5a5d68" stroke="none"/>
<text x="975.2" y="575.5" textLength="39.2" lengthAdjust="spacingAndGlyphs">47800.00</text>
<rect x="969" y="596.17" width="2.7" height="0.9" fill="#5a5d68" stroke="none"/>
<text x="975.2" y="600.8" textLength="39.2" lengthAdjust="spacingAndGlyphs">47350.00</text>
</g>
<rect x="922.5" y="272.3" width="44.2" height="15.4" fill="#ef5350"/>
<rect x="966.7" y="272.3" width="1.2" height="15.4" fill="#f7a9a7"/>
<rect x="967.9" y="272.3" width="53.4" height="15.4" fill="#ef5350"/>
<rect x="968.2" y="279.6" width="2.8" height="1" fill="#fff"/>
<rect x="987.2" y="289.3" width="34.1" height="14.6" fill="#ef5350"/>
<g font-family="'Liberation Sans', sans-serif" font-size="11.1" fill="#fff" stroke="#fff" stroke-width="0.3" filter="url(#tb)">
<text x="928.8" y="284.4" textLength="33.8" lengthAdjust="spacingAndGlyphs">BTCUSD</text>
<text x="975.2" y="284.4" textLength="39.2" lengthAdjust="spacingAndGlyphs">53304.70</text>
<text x="990.5" y="300.9" textLength="23.9" lengthAdjust="spacingAndGlyphs">02:32</text>
</g>
<rect x="951.1" y="580.4" width="70.3" height="14.8" fill="#4c525e"/>
<rect x="966.4" y="580.4" width="1.3" height="14.8" fill="#676d7a"/>
<rect x="969" y="587.3" width="2.8" height="1" fill="#d5d8df"/>
<path d="M954.3 587.8H963.4M958.85 583.2V592.4" stroke="#d5d8df" stroke-width="1.2" fill="none"/>
<text x="975.2" y="591.9" font-family="'Liberation Sans', sans-serif" font-size="11.1" fill="#fff" stroke="#fff" stroke-width="0.3" filter="url(#tb)" textLength="39.2" lengthAdjust="spacingAndGlyphs">47505.82</text>
</svg>
</body></html>
